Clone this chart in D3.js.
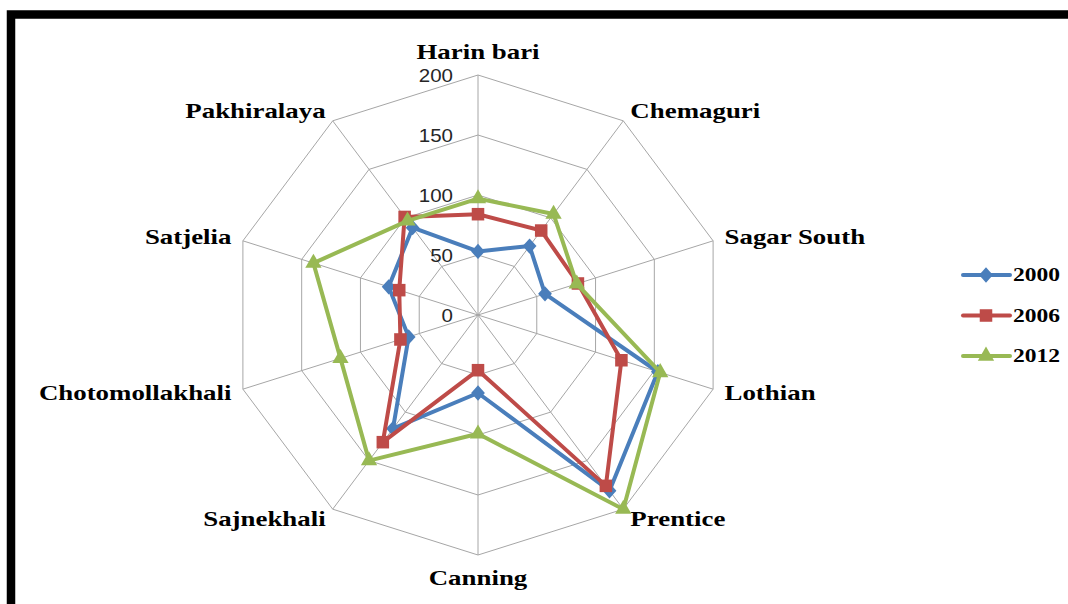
<!DOCTYPE html>
<html>
<head>
<meta charset="utf-8">
<script src="https://cdn.jsdelivr.net/npm/d3@7"></script>
<style>
  html, body { margin: 0; padding: 0; background: #fff; }
  svg { display: block; }
</style>
</head>
<body>
<svg id="chart" width="1068" height="604"></svg>
<script>
// categories, clockwise from the top
const categories = ["Harin bari", "Chemaguri", "Sagar South", "Lothian", "Prentice",
                    "Canning", "Sajnekhali", "Chotomollakhali", "Satjelia", "Pakhiralaya"];
const years = ["2000", "2006", "2012"];
const values2000 = [53, 71, 57, 153, 181, 65, 117, 59, 76, 90];
const values2006 = [84, 87, 85, 122, 176, 46, 131, 66, 67, 101];
const values2012 = [97, 104, 84, 155, 200, 99, 150, 117, 140, 97];
const ticks = [0, 50, 100, 150, 200];
const colors = ["#4a7ebb", "#be4b48", "#98b954"];

const svg = d3.select("#chart");
const cx = 478, cy = 315;
const sx = 1.03; // chart is a little wider than tall
const r = d3.scaleLinear().domain([0, 200]).range([0, 240]);
const angle = d3.scaleLinear().domain([0, categories.length]).range([0, 2 * Math.PI]);

const pt = (i, v) => [cx + sx * r(v) * Math.sin(angle(i)), cy - r(v) * Math.cos(angle(i))];

// frame
svg.append("rect")
    .attr("x", 11).attr("y", 14.5)
    .attr("width", 1100).attr("height", 700)
    .attr("fill", "none").attr("stroke", "#000").attr("stroke-width", 8.5);

const grid = svg.append("g").attr("fill", "none").attr("stroke", "#a6a6a6").attr("stroke-width", 1);

// rings
ticks.slice(1).forEach(t => {
    grid.append("path")
        .attr("d", d3.line()(categories.map((c, i) => pt(i, t))) + "Z");
});
// spokes
categories.forEach((c, i) => {
    grid.append("line")
        .attr("x1", cx).attr("y1", cy)
        .attr("x2", pt(i, 200)[0]).attr("y2", pt(i, 200)[1]);
});

// tick labels
svg.append("g").selectAll("text")
    .data(ticks)
    .enter().append("text")
    .attr("transform", d => `translate(${cx - 25},${cy - r(d)}) scale(1.08,1)`)
    .attr("text-anchor", "end")
    .attr("dy", "0.36em")
    .attr("font-family", "Liberation Sans, Arial, sans-serif")
    .attr("font-size", 19)
    .attr("fill", "#262626")
    .text(d => d);

// category labels
svg.append("g").selectAll("text")
    .data(categories)
    .enter().append("text")
    .attr("transform", (d, i) => {
        const s = Math.sin(angle(i)), c = Math.cos(angle(i));
        const pad = Math.abs(s) < 0.1 ? 23 : 12;
        const x = cx + (sx * r(200) + pad) * s;
        const y = cy - (r(200) + pad) * c;
        return `translate(${x},${y}) scale(1.28,1)`;
    })
    .attr("text-anchor", (d, i) => {
        const s = Math.sin(angle(i));
        return Math.abs(s) < 0.1 ? "middle" : (s > 0 ? "start" : "end");
    })
    .attr("dy", "0.33em")
    .attr("font-family", "Liberation Serif, Times New Roman, serif")
    .attr("font-weight", "bold")
    .attr("font-size", 21)
    .attr("fill", "#000")
    .text(d => d);

// series
const seriesValues = [values2000, values2006, values2012];
const symbols = [
    d3.symbol().type(d3.symbolDiamond2).size(150),
    d3.symbol().type(d3.symbolSquare2).size(200),
    d3.symbol().type(d3.symbolTriangle2).size(190)
];
const fixSymbol = (k) => {
    // squish the diamond like Excel's marker and keep triangles upright
    return k === 0 ? "scale(0.9,1) rotate(0)" : "";
};

seriesValues.forEach((vals, k) => {
    const g = svg.append("g");
    g.append("path")
        .attr("d", d3.line()(vals.map((v, i) => pt(i, v))) + "Z")
        .attr("fill", "none")
        .attr("stroke", colors[k])
        .attr("stroke-width", 4)
        .attr("stroke-linejoin", "round");
    g.selectAll("path.m")
        .data(vals)
        .enter().append("path")
        .attr("class", "m")
        .attr("d", symbols[k])
        .attr("transform", (v, i) => `translate(${pt(i, v)}) ${fixSymbol(k)}`)
        .attr("fill", colors[k])
        .attr("stroke", "none");
});

// legend
const legend = svg.append("g");
years.forEach((y, k) => {
    const ly = 275 + k * 40.5;
    legend.append("line")
        .attr("x1", 963).attr("x2", 1010)
        .attr("y1", ly).attr("y2", ly)
        .attr("stroke", colors[k]).attr("stroke-width", 4)
        .attr("stroke-linecap", "round");
    legend.append("path")
        .attr("d", symbols[k])
        .attr("transform", `translate(986,${ly}) ${fixSymbol(k)}`)
        .attr("fill", colors[k]);
    legend.append("text")
        .attr("transform", `translate(1013,${ly}) scale(1.24,1)`)
        .attr("dy", "0.33em")
        .attr("font-family", "Liberation Serif, Times New Roman, serif")
        .attr("font-weight", "bold")
        .attr("font-size", 19)
        .text(y);
});
</script>
</body>
</html>
